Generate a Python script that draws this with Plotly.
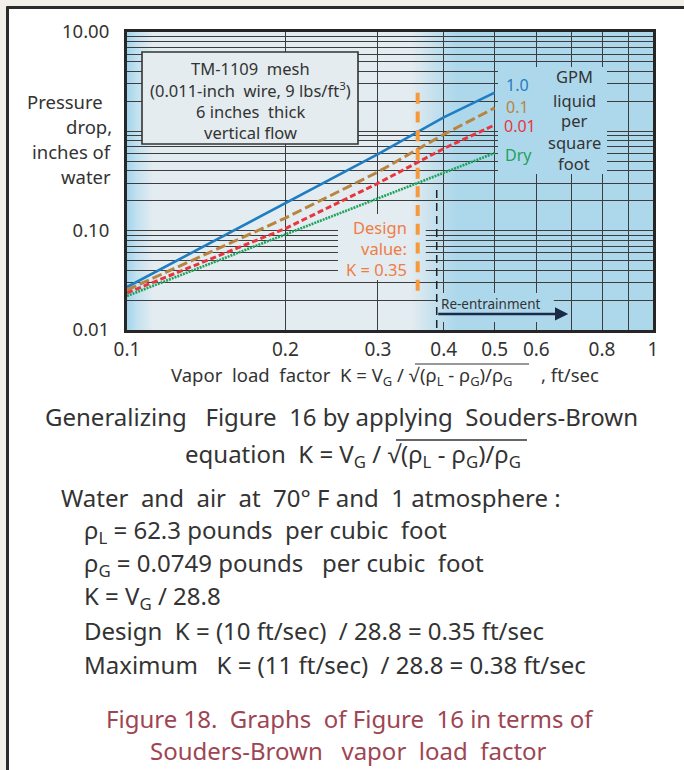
import math
import plotly.graph_objects as go

# ---------------- data ----------------
k_vals = [0.1, 0.2, 0.3, 0.4, 0.5]
dp_gpm_1_0 = [0.0271, 0.19, 0.59, 1.38, 2.45]
dp_gpm_0_1 = [0.0253, 0.134, 0.39, 0.93, 1.72]
dp_gpm_0_01 = [0.0236, 0.105, 0.30, 0.67, 1.16]
dp_dry = [0.0220, 0.091, 0.21, 0.38, 0.605]

series_names = ["1.0", "0.1", "0.01", "Dry"]
series_colors = ["#1f7dc2", "#b9843f", "#e8363f", "#21a25c"]

design_k = 0.357
design_dp = [2.44, 0.0245]
max_k = 0.388
max_dp = [0.257, 0.01]
reentrain_k = [0.388, 0.69]
reentrain_dp = 0.0145

x_tickvals = [0.1, 0.2, 0.3, 0.4, 0.5, 0.6, 0.7, 0.8, 0.9, 1.0]
x_ticktext = ["0.1", "0.2", "0.3", "0.4", "0.5", "0.6", "", "0.8", "", "1"]
y_tickvals = [round(m * 10 ** e, 4) for e in (-2, -1, 0) for m in range(1, 10)] + [10.0]
y_ticktext = ["0.01"] + [""] * 8 + ["0.10"] + [""] * 8 + [""] + [""] * 8 + ["10.00"]

# ---------------- geometry helpers (pixel -> paper / data) ----------------
FIG_W, FIG_H = 684, 770
L, R, T, B = 127, 653, 32, 330
W, H = R - L, B - T
XLOG0, XDEC = -1.0, 1.0   # x axis log range
YLOG0, YDEC = -2.0, 3.0   # y axis log range


def px(x):
    return (x - L) / W


def py(y):
    return (B - y) / H


def dx(x):
    return 10 ** (XLOG0 + XDEC * px(x))


def dy(y):
    return 10 ** (YLOG0 + YDEC * py(y))


FONT = "'Noto Sans', 'Open Sans', sans-serif"
TXT = "#333333"
NB = "\u00a0"

# background gradient colour as function of domain fraction u
stops = [
    (0.0, (163, 212, 236)),
    (0.02, (196, 226, 240)),
    (0.05, (227, 236, 240)),
    (0.54, (227, 236, 240)),
    (0.585, (196, 224, 238)),
    (0.625, (173, 216, 236)),
    (1.0, (173, 216, 236)),
]


def color_at(u):
    for (u0, c0), (u1, c1) in zip(stops[:-1], stops[1:]):
        if u0 <= u <= u1:
            t = 0 if u1 == u0 else (u - u0) / (u1 - u0)
            c = [round(a + (b - a) * t) for a, b in zip(c0, c1)]
            return "rgb(%d,%d,%d)" % tuple(c)
    return "rgb(173,216,236)"


shapes = []


def grad_below(x0p, x1p, step):
    x = x0p
    while x < x1p:
        xe = min(x + step, x1p)
        u = ((x + xe) / 2 - L) / W
        shapes.append(dict(type="rect", xref="x domain", yref="y domain",
                           x0=px(x), x1=px(xe) + 0.0015, y0=0, y1=1,
                           fillcolor=color_at(u), line=dict(width=0), layer="below"))
        x = xe


def grad_cover(x0p, x1p, y0p, y1p, step=2):
    x = x0p
    while x < x1p:
        xe = min(x + step, x1p)
        u = ((x + xe) / 2 - L) / W
        shapes.append(dict(type="rect", xref="x", yref="y",
                           x0=dx(x), x1=dx(xe + 0.8), y0=dy(y1p), y1=dy(y0p),
                           fillcolor=color_at(u), line=dict(width=0), layer="between"))
        x = xe


# full background
grad_below(L, L + 30, 1.5)
shapes.append(dict(type="rect", xref="x domain", yref="y domain", x0=px(L + 30), x1=px(410),
                   y0=0, y1=1, fillcolor=color_at(0.3), line=dict(width=0), layer="below"))
grad_below(410, 460, 2)
shapes.append(dict(type="rect", xref="x domain", yref="y domain", x0=px(460), x1=1,
                   y0=0, y1=1, fillcolor=color_at(0.9), line=dict(width=0), layer="below"))

# covers hiding the grid behind labels
grad_cover(338, 425, 214, 280)      # design value label
grad_cover(438, 553, 293, 322)      # re-entrainment label
shapes.append(dict(type="rect", xref="x", yref="y", x0=dx(498), x1=dx(607),
                   y0=dy(174), y1=dy(67), fillcolor=color_at(0.9), line=dict(width=0),
                   layer="between"))
# TM-1109 box
shapes.append(dict(type="rect", xref="x", yref="y", x0=dx(142), x1=dx(358),
                   y0=dy(144), y1=dy(52), fillcolor="#e4ecf0",
                   line=dict(width=1.6, color="#333333"), layer="between"))

# page decoration
shapes.append(dict(type="rect", xref="paper", yref="paper", x0=px(672), x1=px(690),
                   y0=py(775), y1=py(9.5), fillcolor="white", line=dict(width=0), layer="above"))
shapes.append(dict(type="rect", xref="paper", yref="paper", x0=px(-5), x1=px(690),
                   y0=py(6.5), y1=py(-5), fillcolor="#f2eee8", line=dict(width=0), layer="above"))
shapes.append(dict(type="rect", xref="paper", yref="paper", x0=px(-5), x1=px(6.5),
                   y0=py(775), y1=py(-5), fillcolor="#f2eee8", line=dict(width=0), layer="above"))
shapes.append(dict(type="line", xref="paper", yref="paper", x0=px(6.5), x1=px(690),
                   y0=py(7.5), y1=py(7.5), line=dict(width=3, color="#2b2b2b"), layer="above"))
shapes.append(dict(type="line", xref="paper", yref="paper", x0=px(7.5), x1=px(7.5),
                   y0=py(6.5), y1=py(775), line=dict(width=3, color="#2b2b2b"), layer="above"))

fig = go.Figure()

# curves
styles = [
    dict(width=2.6, dash="solid"),
    dict(width=3, dash="10px,4px"),
    dict(width=3, dash="6px,3px"),
    dict(width=2.6, dash="2px,1px"),
]
for name, ys, col, st in zip(series_names, [dp_gpm_1_0, dp_gpm_0_1, dp_gpm_0_01, dp_dry],
                             series_colors, styles):
    fig.add_trace(go.Scatter(x=k_vals, y=ys, mode="lines", name=name,
                             line=dict(color=col, width=st["width"], dash=st["dash"]),
                             hoverinfo="skip"))

# design value line
fig.add_trace(go.Scatter(x=[design_k, design_k], y=design_dp, mode="lines",
                         line=dict(color="#f5993a", width=4, dash="11px,7.7px"), hoverinfo="skip"))
# maximum / re-entrainment line
fig.add_trace(go.Scatter(x=[max_k, max_k], y=max_dp, mode="lines",
                         line=dict(color="#222222", width=1.5, dash="8px,5px"), hoverinfo="skip"))

ann = []


def text(x, y, s, size, color=TXT, anchor="center"):
    ann.append(dict(x=px(x), y=py(y), xref="paper", yref="paper", text=s, showarrow=False,
                    xanchor=anchor, yanchor="middle", borderpad=0,
                    font=dict(size=size, color=color, family=FONT)))


def overline(x0, x1, y, w=1.3):
    shapes.append(dict(type="line", xref="paper", yref="paper", x0=px(x0), x1=px(x1),
                       y0=py(y), y1=py(y), line=dict(width=w, color=TXT), layer="above"))


# TM box text
for s, yy in zip(["TM-1109" + NB + " mesh", "(0.011-inch" + NB + " wire, 9 lbs/ft<sup>3</sup>)",
                  "6 inches" + NB + " thick", "vertical flow"], [68, 90, 111, 132]):
    text(250, yy, s, 16.5)

# legend labels
for s, col, xx, yy in zip(series_names, series_colors, [505, 505, 503, 504], [85, 107, 126, 155]):
    text(xx, yy, s, 16, col, "left")
for s, yy in zip(["GPM", "liquid", "per", "square", "foot"], [77, 100, 121, 142, 163]):
    text(574, yy, s, 16.5)

# design value label
for s, yy in zip(["Design", "value:", "K = 0.35"], [227, 248, 269]):
    text(408, yy, s, 16.5, "#f07c45", "right")

# re-entrainment
text(440, 304, "Re-entrainment", 13.5, TXT, "left")
ann.append(dict(x=math.log10(reentrain_k[1]), y=math.log10(reentrain_dp), xref="x", yref="y",
                ax=math.log10(reentrain_k[0]), ay=math.log10(reentrain_dp), axref="x", ayref="y",
                showarrow=True, arrowhead=2, arrowsize=1.1, arrowwidth=2.4, arrowcolor="#1b2a48",
                text=""))

# y-axis title
for s, xx, yy in zip(["Pressure", "drop,", "inches of", "water"], [104, 113, 113, 112],
                     [101, 126, 151, 176]):
    text(xx, yy, s, 18.5, TXT, "right")

# x-axis title (split so that the radical's overline lines up)
XT = 18.5
text(421, 376, "Vapor" + NB + " load" + NB + " factor" + NB + " K = V<sub>G</sub> / √", XT, TXT, "right")
text(419, 376, "(ρ<sub>L</sub> - ρ<sub>G</sub>)/ρ<sub>G</sub>", XT, TXT, "left")
text(540, 376, ", ft/sec<sub> </sub>", XT, TXT, "left")
overline(415, 529, 364, 1.2)

# explanatory text
BODY = 24
text(341, 416, "Generalizing" + NB + NB + " Figure" + NB + " 16 by applying" + NB + " Souders-Brown", BODY)
text(403, 455, "equation" + NB + " K = V<sub>G</sub> / √", BODY, TXT, "right")
text(400, 455, "(ρ<sub>L</sub> - ρ<sub>G</sub>)/ρ<sub>G</sub>", BODY, TXT, "left")
overline(396, 527, 440)
text(60, 497, "Water" + NB + " and" + NB + " air" + NB + " at" + NB + " 70° F and" + NB + " 1 atmosphere :",
     BODY, TXT, "left")
text(83, 531, "ρ<sub>L</sub> = 62.3 pounds" + NB + " per cubic" + NB + " foot", BODY, TXT, "left")
text(83, 564, "ρ<sub>G</sub> = 0.0749 pounds" + NB + NB + " per cubic" + NB + " foot", BODY, TXT, "left")
text(83, 597, "K = V<sub>G</sub> / 28.8", BODY, TXT, "left")
text(83, 631, "Design" + NB + " K = (10 ft/sec)" + NB + " / 28.8 = 0.35 ft/sec", BODY, TXT, "left")
text(83, 664, "Maximum" + NB + NB + " K = (11 ft/sec)" + NB + " / 28.8 = 0.38 ft/sec", BODY, TXT, "left")
CAP = "#9e4553"
text(350, 718, "Figure 18." + NB + " Graphs" + NB + " of Figure" + NB + " 16 in terms of", BODY, CAP)
text(348, 750, "Souders-Brown" + NB + NB + " vapor" + NB + " load" + NB + " factor", BODY, CAP)

fig.update_layout(
    width=FIG_W, height=FIG_H,
    margin=dict(l=L, r=FIG_W - R, t=T, b=FIG_H - B),
    paper_bgcolor="white", plot_bgcolor="rgb(227,236,240)",
    showlegend=False,
    font=dict(family=FONT, color=TXT),
    shapes=shapes, annotations=ann,
    xaxis=dict(type="log", range=[XLOG0, XLOG0 + XDEC], tickmode="array", tickvals=x_tickvals,
               ticktext=x_ticktext, showgrid=True, gridcolor="#3d3d3d", gridwidth=1.4, zeroline=False,
               showline=True, mirror=True, linecolor="#262626", linewidth=3, ticks="",
               tickfont=dict(size=19, color=TXT), ticklabelstandoff=0),
    yaxis=dict(type="log", range=[YLOG0, YLOG0 + YDEC], tickmode="array", tickvals=y_tickvals,
               ticktext=y_ticktext, showgrid=True, gridcolor="#3d3d3d", gridwidth=1.4, zeroline=False,
               showline=True, mirror=True, linecolor="#262626", linewidth=3, ticks="",
               tickfont=dict(size=18.5, color=TXT), ticklabelstandoff=11),
)

fig.write_html(
    "out.html",
    config={"displayModeBar": False},
    post_script="document.body.style.margin='0px';document.body.style.overflow='hidden';"
                "document.documentElement.style.overflow='hidden';",
)
